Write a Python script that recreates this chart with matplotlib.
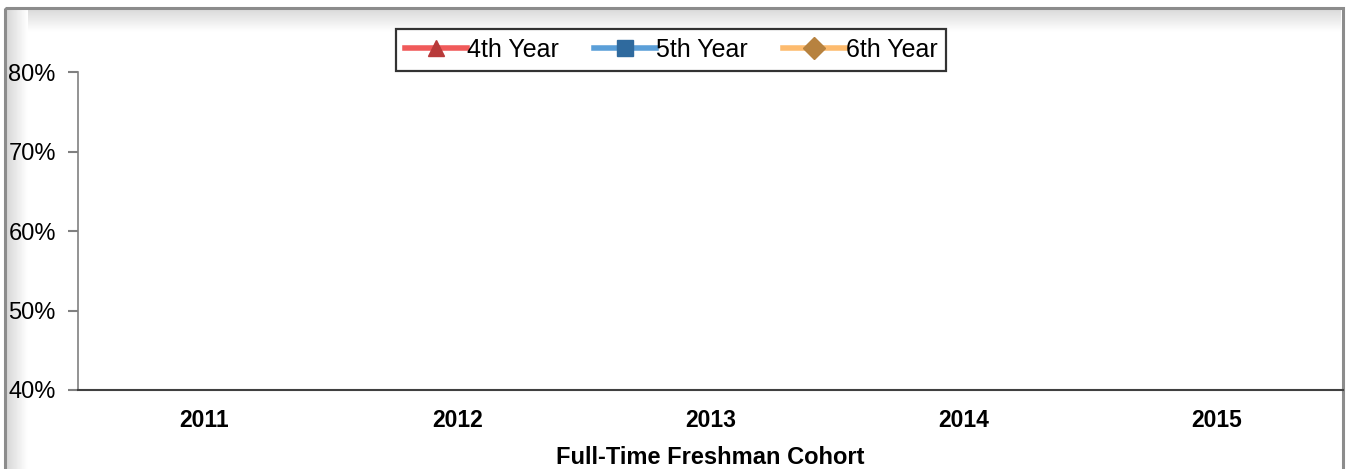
"""
Script that plots full-time freshman graduation rates by cohort.

The reference chart has no data points drawn, so the series are kept
as missing values and only the axes, legend and frame are shown.
"""


import matplotlib.pyplot as plt
import numpy as np
from matplotlib.patches import Rectangle
from matplotlib.ticker import FuncFormatter


COHORTS = ['2011', '2012', '2013', '2014', '2015']

FOURTH_YEAR = [np.nan, np.nan, np.nan, np.nan, np.nan]
FIFTH_YEAR = [np.nan, np.nan, np.nan, np.nan, np.nan]
SIXTH_YEAR = [np.nan, np.nan, np.nan, np.nan, np.nan]

SERIES = [
    ('4th Year', FOURTH_YEAR, '#F05A5A', '^', '#B83A3A'),
    ('5th Year', FIFTH_YEAR, '#5B9FD8', 's', '#2F6A9E'),
    ('6th Year', SIXTH_YEAR, '#FDBB6E', 'D', '#B7823F'),
]

Y_TICKS = [0.4, 0.5, 0.6, 0.7, 0.8]

FIG_W, FIG_H = 1351, 469
DPI = 100


def main():

    plt.rcParams['font.family'] = ['Liberation Sans', 'DejaVu Sans']

    fig = plt.figure(figsize=(FIG_W / DPI, FIG_H / DPI), dpi=DPI)
    draw_frame(fig)

    axes = fig.add_axes([
        78 / FIG_W, 1 - 390 / FIG_H,
        (1343 - 78) / FIG_W, (390 - 72) / FIG_H])
    axes.set_facecolor('none')

    x = np.arange(len(COHORTS))
    for name, values, color, marker, marker_color in SERIES:
        axes.plot(
            x, values, color=color, linewidth=4, marker=marker,
            markersize=11, markerfacecolor=marker_color,
            markeredgecolor=marker_color, label=name)

    format_axes(axes)

    legend = axes.legend(
        loc='center', bbox_to_anchor=(671 / FIG_W, 1 - 50 / FIG_H),
        bbox_transform=fig.transFigure, ncol=3, frameon=True,
        fancybox=False, fontsize=18, handlelength=2.5,
        handletextpad=0.0, columnspacing=1.4, borderpad=0.35,
        borderaxespad=0)
    legend.get_frame().set_edgecolor('black')
    legend.get_frame().set_linewidth(1.6)

    fig.savefig('out.png', dpi=DPI)


def draw_frame(fig):

    back = fig.add_axes([0, 0, 1, 1], zorder=-10)

    # soft bevel shading along the top and left inner edges
    top = np.linspace(0.86, 1.0, 30).reshape(-1, 1)
    back.imshow(
        top, cmap='gray', vmin=0, vmax=1, aspect='auto',
        extent=(6, 1341, 32, 10), interpolation='bilinear')
    left = np.linspace(0.84, 1.0, 24).reshape(1, -1)
    back.imshow(
        left, cmap='gray', vmin=0, vmax=1, aspect='auto',
        extent=(6, 28, FIG_H, 10), interpolation='bilinear')

    back.add_patch(Rectangle(
        (4.5, 8.5), 1338, 470, fill=False, edgecolor='#8C8C8C',
        linewidth=2.2))
    back.set_xlim(0, FIG_W)
    back.set_ylim(FIG_H, 0)
    back.axis('off')


def format_axes(axes):

    axes.set_xlim(-0.5, len(COHORTS) - 0.5)
    axes.set_ylim(Y_TICKS[0], Y_TICKS[-1])

    axes.set_xticks(np.arange(len(COHORTS)))
    axes.set_xticklabels(COHORTS, fontsize=16.5, fontweight='bold')
    axes.tick_params(axis='x', length=0, pad=14)

    axes.set_yticks(Y_TICKS)
    axes.yaxis.set_major_formatter(
        FuncFormatter(lambda v, _: f'{v * 100:.0f}%'))
    axes.tick_params(
        axis='y', length=7, width=1.5, color='#808080',
        labelsize=17, pad=9)

    axes.set_xlabel(
        'Full-Time Freshman Cohort', fontsize=17, fontweight='bold',
        labelpad=10)

    axes.spines['top'].set_visible(False)
    axes.spines['right'].set_visible(False)
    axes.spines['left'].set_color('#808080')
    axes.spines['left'].set_linewidth(1.2)
    axes.spines['bottom'].set_color('#404040')
    axes.spines['bottom'].set_linewidth(1.5)


if __name__ == '__main__':
    main()
